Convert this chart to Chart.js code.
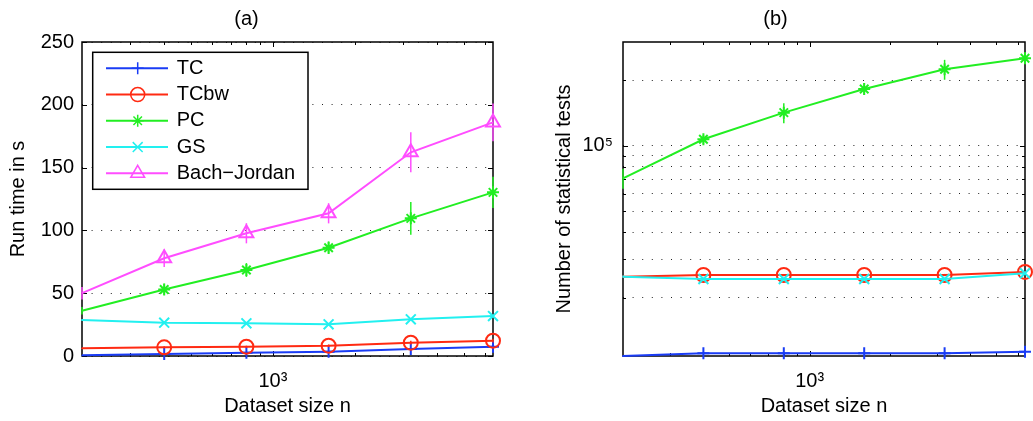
<!DOCTYPE html>
<html>
<head>
<meta charset="utf-8">
<script src="https://cdn.jsdelivr.net/npm/chart.js@4/dist/chart.umd.min.js"></script>
<style>
  html, body { margin: 0; padding: 0; background: #fff; overflow: hidden; }
  #wrap { position: relative; width: 1033px; height: 421px; overflow: hidden; }
  canvas { position: absolute; top: 0; }
  #left { left: 0; }
  #right { left: 517px; }
</style>
</head>
<body>
<div id="wrap">
  <canvas id="left" width="517" height="421"></canvas>
  <canvas id="right" width="517" height="421"></canvas>
</div>
<script>
'use strict'

// dataset sizes (x axis, log)
const sizes = [200, 400, 800, 1600, 3200, 6400]
const seriesNames = ['TC', 'TCbw', 'PC', 'GS', 'Bach\u2212Jordan']

// (a) run time in s, with error bar half-widths
const tcTime = [0.5, 1.6, 2.6, 3.4, 5.6, 7.4]
const tcbwTime = [6.1, 6.9, 7.4, 8.2, 10.6, 12.2]
const pcTime = [36, 53, 68.5, 86.2, 109.6, 130.3]
const gsTime = [28.7, 26.5, 26, 25.2, 29.2, 31.8]
const bjTime = [50, 77.8, 97.7, 113.6, 162.2, 186]
const tcTimeErr = [0.3, 0.5, 0.5, 0.5, 0.8, 1]
const tcbwTimeErr = [0.5, 0.8, 0.8, 1, 1.5, 1.5]
const pcTimeErr = [3, 4.5, 5.5, 5, 13, 12.5]
const gsTimeErr = [0.8, 0.8, 0.8, 0.8, 1, 1]
const bjTimeErr = [5, 7, 8, 8, 16, 15]

// (b) number of statistical tests
const tcTests = [10770, 11080, 11080, 11080, 11080, 11270]
const tcbwTests = [24950, 25400, 25400, 25400, 25400, 26240]
const pcTests = [70800, 107000, 141900, 182300, 224700, 252500]
const gsTests = [24950, 24350, 24350, 24350, 24350, 25880]
const bjTests = [null, null, null, null, null, null]
const tcTestsErr = [100, 100, 100, 100, 100, 100]
const tcbwTestsErr = [300, 300, 300, 300, 300, 300]
const pcTestsErr = [7500, 5000, 15000, 11400, 23600, 15000]
const gsTestsErr = [300, 300, 300, 300, 300, 300]

// tick values / labels
const xTicks = [300, 400, 500, 600, 700, 800, 900, 1000, 2000, 3000, 4000, 5000, 6000]
const xMajor = 1000
const xMajorLabel = '10\u00b3'
const timeTicks = [0, 50, 100, 150, 200, 250]
const testTicks = [20000, 30000, 40000, 50000, 60000, 70000, 80000, 90000, 100000, 200000]
const testMajor = 100000
const testMajorLabel = '10\u2075'

const styles = [
    { color: '#1a3cf5', pointStyle: 'cross', radius: 6 },
    { color: '#ff2a12', pointStyle: 'circle', radius: 7 },
    { color: '#22ee22', pointStyle: 'star', radius: 6 },
    { color: '#22f0f0', pointStyle: 'crossRot', radius: 7 },
    { color: '#ff4dff', pointStyle: 'triangle', radius: 8 }
]

Chart.defaults.font.family = "'Liberation Sans', Arial, Helvetica, sans-serif"
Chart.defaults.font.size = 20
Chart.defaults.color = '#000'

function makeDatasets(valueLists, errLists) {
    const sets = []
    valueLists.forEach((vals, i) => {
        if (vals.every(v => v === null)) return
        const st = styles[i]
        sets.push({
            label: seriesNames[i],
            data: sizes.map((x, k) => ({ x, y: vals[k] })),
            errors: errLists[i],
            borderColor: st.color,
            backgroundColor: st.color,
            borderWidth: 2,
            pointStyle: st.pointStyle,
            markerSize: st.radius,
            pointRadius: c => c.dataIndex === 0 ? 0 : st.radius,
            pointHoverRadius: c => c.dataIndex === 0 ? 0 : st.radius,
            pointBorderColor: st.color,
            pointBackgroundColor: 'rgba(0,0,0,0)',
            pointBorderWidth: 2,
            tension: 0,
            clip: false,
            order: 5 - i
        })
    })
    return sets
}

// vertical error bars drawn with each series
const errorBars = {
    id: 'errorBars',
    afterDatasetDraw(chart, args) {
        const ds = chart.data.datasets[args.index]
        if (!ds.errors) return
        const { ctx, scales: { x, y } } = chart
        ctx.save()
        ctx.strokeStyle = ds.borderColor
        ctx.lineWidth = 1.5
        ds.data.forEach((p, i) => {
            const e = ds.errors[i]
            if (!e) return
            const px = x.getPixelForValue(p.x)
            ctx.beginPath()
            ctx.moveTo(px, y.getPixelForValue(p.y - e))
            ctx.lineTo(px, y.getPixelForValue(p.y + e))
            ctx.stroke()
        })
        ctx.restore()
    }
}

// box and inward ticks on all four sides
const frame = {
    id: 'frame',
    beforeDatasetsDraw(chart) {
        const { ctx, chartArea: a, scales: { x, y } } = chart
        ctx.save()
        ctx.strokeStyle = '#000'
        ctx.lineWidth = 1
        ctx.beginPath()
        x.ticks.forEach(t => {
            const px = Math.round(x.getPixelForValue(t.value)) + 0.5
            const len = t.major === false ? 3 : 5
            ctx.moveTo(px, a.bottom); ctx.lineTo(px, a.bottom - len)
            ctx.moveTo(px, a.top); ctx.lineTo(px, a.top + len)
        })
        y.ticks.forEach(t => {
            const py = Math.round(y.getPixelForValue(t.value)) + 0.5
            const len = t.major === false ? 3 : 5
            ctx.moveTo(a.left, py); ctx.lineTo(a.left + len, py)
            ctx.moveTo(a.right, py); ctx.lineTo(a.right - len, py)
        })
        ctx.stroke()
        ctx.lineWidth = 1.5
        ctx.strokeRect(a.left, a.top, a.right - a.left, a.bottom - a.top)
        ctx.restore()
    }
}

// matlab style legend box in the upper left
const legendBox = {
    id: 'legendBox',
    afterDraw(chart) {
        const { ctx, chartArea: a } = chart
        const x0 = a.left + 10.7, y0 = a.top + 10.3, w = 215.3, h = 137
        ctx.save()
        ctx.fillStyle = '#fff'
        ctx.fillRect(x0, y0, w, h)
        ctx.strokeStyle = '#000'
        ctx.lineWidth = 1.5
        ctx.strokeRect(x0, y0, w, h)
        chart.data.datasets.forEach((ds, i) => {
            const cy = y0 + 16 + i * 26.25
            ctx.strokeStyle = ds.borderColor
            ctx.lineWidth = 2
            ctx.beginPath()
            ctx.moveTo(x0 + 13.3, cy)
            ctx.lineTo(x0 + 75.3, cy)
            ctx.stroke()
            ctx.lineWidth = 1.5
            ctx.fillStyle = 'rgba(0,0,0,0)'
            Chart.helpers.drawPoint(ctx, { pointStyle: ds.pointStyle, radius: ds.markerSize, borderWidth: 1.5, rotation: 0 }, x0 + 45, cy)
            ctx.fillStyle = '#000'
            ctx.font = "20px 'Liberation Sans', Arial, sans-serif"
            ctx.textBaseline = 'middle'
            ctx.textAlign = 'left'
            ctx.fillText(ds.label, x0 + 84, cy)
        })
        ctx.restore()
    }
}

function xScale() {
    return {
        type: 'logarithmic',
        min: sizes[0],
        max: sizes[sizes.length - 1],
        afterBuildTicks: s => { s.ticks = xTicks.map(v => ({ value: v, major: v === xMajor })) },
        afterFit: s => { s.height = 65 },
        grid: { display: false, drawTicks: false },
        border: { display: false },
        ticks: { autoSkip: false, maxRotation: 0, padding: 13.5, callback: v => v === xMajor ? xMajorLabel : '' },
        title: { display: true, text: 'Dataset size n', padding: { top: 0, bottom: 3 } }
    }
}

function baseOptions(title, yOpts, rightPad) {
    return {
        responsive: false,
        animation: false,
        events: [],
        layout: { padding: { left: 0, right: rightPad, top: 0, bottom: 0 } },
        plugins: {
            legend: { display: false },
            tooltip: { enabled: false },
            title: { display: true, text: title, font: { size: 20, weight: 'normal' }, padding: { top: 7.5, bottom: 10.5 } }
        },
        scales: { x: xScale(), y: yOpts }
    }
}

// (a) run time
new Chart(document.getElementById('left'), {
    type: 'line',
    data: {
        datasets: makeDatasets(
            [tcTime, tcbwTime, pcTime, gsTime, bjTime],
            [tcTimeErr, tcbwTimeErr, pcTimeErr, gsTimeErr, bjTimeErr])
    },
    options: baseOptions('(a)', {
        type: 'linear',
        min: timeTicks[0],
        max: timeTicks[timeTicks.length - 1],
        afterBuildTicks: s => { s.ticks = timeTicks.map(v => ({ value: v })) },
        afterFit: s => { s.width = 82 },
        grid: { color: '#222', lineWidth: 1, drawTicks: false },
        border: { display: false, dash: [1, 8.6] },
        ticks: { autoSkip: false, padding: 8 },
        title: { display: true, text: 'Run time in s', padding: { top: 6, bottom: 0 } }
    }, 24),
    plugins: [frame, errorBars, legendBox]
})

// (b) number of tests
new Chart(document.getElementById('right'), {
    type: 'line',
    data: {
        datasets: makeDatasets(
            [tcTests, tcbwTests, pcTests, gsTests, bjTests],
            [tcTestsErr, tcbwTestsErr, pcTestsErr, gsTestsErr, null])
    },
    options: baseOptions('(b)', {
        type: 'logarithmic',
        min: tcTests[0],
        max: 300000,
        afterBuildTicks: s => { s.ticks = testTicks.map(v => ({ value: v, major: v === testMajor })) },
        afterFit: s => { s.width = 106 },
        grid: { color: '#222', lineWidth: 1, drawTicks: false },
        border: { display: false, dash: [1, 8.6] },
        ticks: { autoSkip: false, padding: 10, callback: v => v === testMajor ? testMajorLabel : '' },
        title: { display: true, text: 'Number of statistical tests', padding: { top: 35, bottom: 0 } }
    }, 0),
    plugins: [frame, errorBars]
})
</script>
</body>
</html>
